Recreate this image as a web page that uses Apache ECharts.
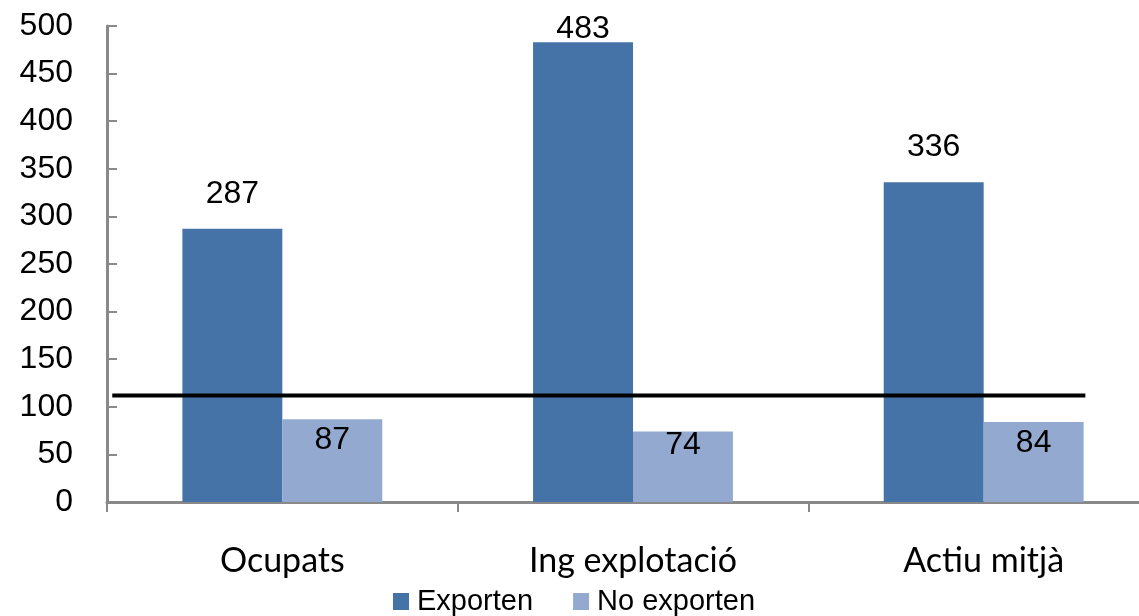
<!DOCTYPE html>
<html><head><meta charset="utf-8">
<script src="https://cdn.jsdelivr.net/npm/echarts@6/dist/echarts.min.js"></script>
<style>html,body{margin:0;padding:0;background:#fff}#c{width:1139px;height:616px}</style>
</head><body><div id="c"></div>
<script>
const categories = ['Ocupats', 'Ing explotació', 'Actiu mitjà'];
const exporten = [287, 483, 336];
const noExporten = [87, 74, 84];
const refValue = 112;
const refSpan = [0.015, 2.79];
const yTicks = { min: 0, max: 500, interval: 50 };

const chart = echarts.init(document.getElementById('c'));
const numFont = 'Liberation Sans, Arial, sans-serif';
chart.setOption({
  animation: false,
  grid: { left: 107, top: 26, width: 1052, height: 476, containLabel: false, outerBoundsMode: 'none' },
  legend: {
    top: 582, left: 388,
    itemWidth: 16, itemHeight: 17, itemGap: 40,
    icon: 'rect',
    textStyle: { fontFamily: numFont, fontSize: 29, color: '#000', padding: [0, 0, 0, 3] },
    data: ['Exporten', 'No exporten']
  },
  xAxis: [{
    type: 'category', data: categories,
    axisLine: { lineStyle: { color: '#898989', width: 3 } },
    axisTick: { show: true, length: 10, lineStyle: { color: '#898989', width: 2 } },
    axisLabel: { fontFamily: 'Lato, Open Sans, sans-serif', fontSize: 34, color: '#000', margin: 42 }
  }, {
    type: 'value', min: 0, max: 3, show: false
  }],
  yAxis: {
    type: 'value', min: yTicks.min, max: yTicks.max, interval: yTicks.interval,
    splitLine: { show: false },
    axisLine: { show: true, lineStyle: { color: '#898989', width: 3 } },
    axisTick: { show: true, inside: true, length: 10, lineStyle: { color: '#898989', width: 2 } },
    axisLabel: { fontFamily: numFont, fontSize: 32, color: '#000', margin: 34 }
  },
  series: [{
    name: 'Exporten', type: 'bar', barGap: '0%', barCategoryGap: '43%',
    itemStyle: { color: '#4573A7' },
    data: exporten.map((v, i) => i === 1 ? { value: v, label: { distance: -3 } } : v),
    label: { show: true, position: 'top', distance: 19, fontFamily: numFont, fontSize: 32, color: '#000' }
  }, {
    name: 'No exporten', type: 'bar',
    itemStyle: { color: '#93A9CF' },
    data: noExporten.map((v, i) => i === 1 ? { value: v, label: { distance: -2 } } : v),
    label: { show: true, position: 'insideTop', distance: 5, fontFamily: numFont, fontSize: 32, color: '#000' }
  }, {
    name: 'ref', type: 'line', xAxisIndex: 1, symbol: 'none',
    lineStyle: { color: '#000', width: 4 },
    data: refSpan.map(x => [x, refValue]),
    z: 5
  }]
});
</script></body></html>
